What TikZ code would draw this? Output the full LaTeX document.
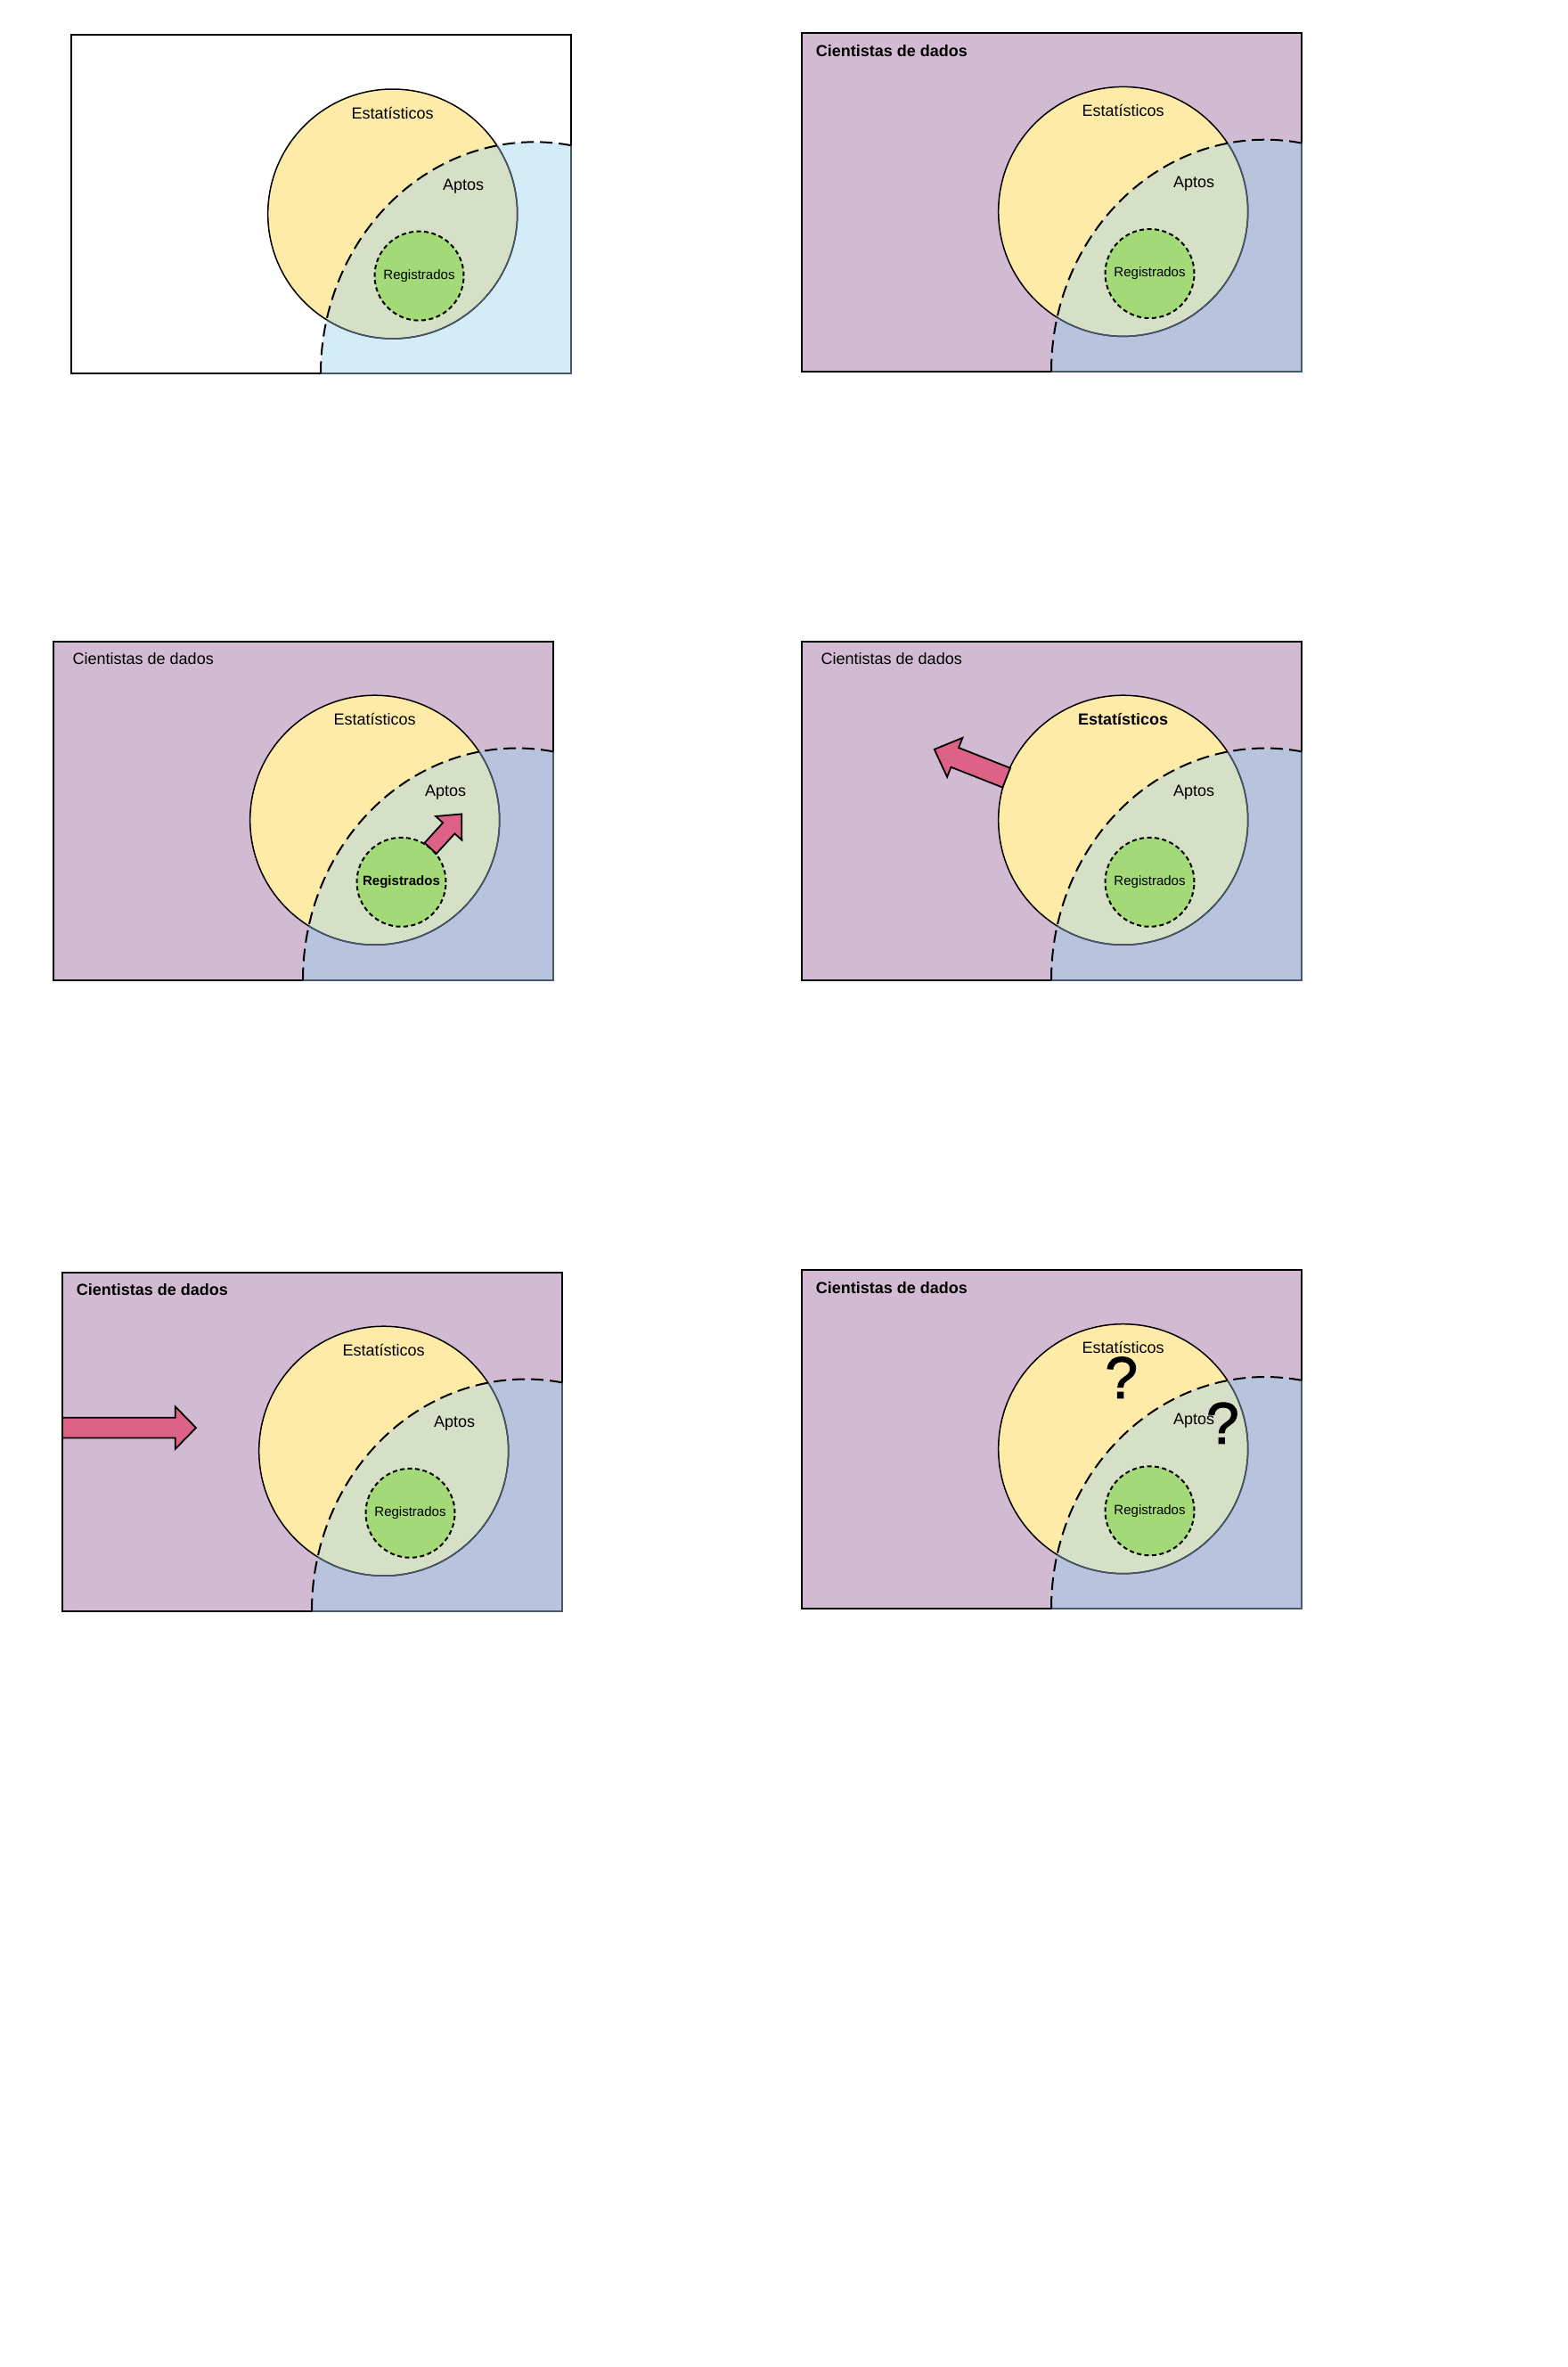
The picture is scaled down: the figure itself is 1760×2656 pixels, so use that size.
\documentclass[tikz,border=0pt]{standalone}
\usepackage{fontspec}
\setmainfont{Liberation Sans}
\newfontfamily\qmfont[FakeBold=1.6]{Liberation Sans}
\definecolor{bgp}{HTML}{D2BBD2}
\definecolor{yel}{HTML}{FFEBA8}
\definecolor{blu}{HTML}{B8C3DE}
\definecolor{lblu}{HTML}{D4EBF8}
\definecolor{ovl}{HTML}{D5E0C6}
\definecolor{grn}{HTML}{A3D977}
\definecolor{slate}{HTML}{46586A}
\definecolor{pinkarrow}{HTML}{DE6187}
\tikzset{
  rim/.style={draw=black, line width=2pt},
  ring/.style={draw=black, line width=1.5pt},
  bigdash/.style={draw=black, line width=2pt, dash pattern=on 14pt off 7pt},
  regc/.style={circle, minimum size=100pt, inner sep=0pt, fill=grn, draw=black,
    line width=2pt, dash pattern=on 5pt off 3.5pt},
  lbl/.style={anchor=base, inner sep=0pt},
  paneltitle/.style={anchor=base west, inner sep=0pt},
  qmark/.style={anchor=base, inner sep=0pt, font=\fontsize{66pt}{72pt}\qmfont},
  blockarrow/.style={fill=pinkarrow, draw=black, line width=1.8pt, line join=miter},
}
% #1 prefix, #2 background, #3 blue region, #4 font extra Estatisticos, #5 font extra Registrados
\newcommand{\VennPanel}[5]{%
  \fill[#2] (0,0) rectangle (561,380);
  \fill[yel] (360.7,200.7) circle[radius=140pt];
  \begin{scope}
    \clip (0,0) rectangle (561,380);
    \fill[#3] (520,380) ellipse[x radius=240pt, y radius=260pt];
    \clip (520,380) ellipse[x radius=240pt, y radius=260pt];
    \fill[ovl] (360.7,200.7) circle[radius=140pt];
  \end{scope}
  \draw[rim] (0,0) rectangle (561,380);
  \draw[ring] (360.7,200.7) circle[radius=140pt];
  \begin{scope}
    \clip (520,380) ellipse[x radius=240pt, y radius=260pt];
    \draw[ring, draw=slate] (360.7,200.7) circle[radius=140pt];
    \draw[rim, draw=slate] (0,0) rectangle (561,380);
  \end{scope}
  \draw[bigdash] (280,380) arc[start angle=180, end angle=80.2, x radius=240pt, y radius=260pt];
  \node[regc, font=\fontsize{15pt}{18pt}\selectfont#5] (#1-reg) at (390.5,270.3) {Registrados};
  \node[lbl, font=\fontsize{18pt}{21pt}\selectfont#4] (#1-est) at (360.6,93.8) {Estatísticos};
  \node[lbl, font=\fontsize{18pt}{21pt}\selectfont] (#1-apt) at (440.2,173.8) {Aptos};
}
\newcommand{\BlockArrow}[4]{%
  \path[blockarrow] (0,-#2/2) -- (#1-#4,-#2/2) -- (#1-#4,-#3/2) -- (#1,0)
    -- (#1-#4,#3/2) -- (#1-#4,#2/2) -- (0,#2/2) -- cycle;
}
\begin{document}
\begin{tikzpicture}[x=1pt,y=-1pt]
\useasboundingbox (0,0) rectangle (1760,2656);
\fill[white] (0,0) rectangle (1760,2656);

% Panel 1
\begin{scope}[shift={(80,39.3)}]
  \VennPanel{a}{white}{lblu}{}{}
\end{scope}

% Panel 2
\begin{scope}[shift={(900,36.7)}]
  \VennPanel{b}{bgp}{blu}{}{}
  \node[paneltitle, font=\fontsize{18pt}{21pt}\selectfont\bfseries] (b-title) at (15.6,26.3) {Cientistas de dados};
\end{scope}

% Panel 3
\begin{scope}[shift={(60,719.5)}]
  \VennPanel{c}{bgp}{blu}{}{\bfseries}
  \node[paneltitle, font=\fontsize{18pt}{21pt}\selectfont] (c-title) at (21.5,26.3) {Cientistas de dados};
  \begin{scope}[shift={(423.2,232.3)}, rotate=47.6]
    \BlockArrow{52}{18}{39.5}{21.5}
  \end{scope}
\end{scope}

% Panel 4
\begin{scope}[shift={(900,719.5)}]
  \VennPanel{d}{bgp}{blu}{\bfseries}{}
  \node[paneltitle, font=\fontsize{18pt}{21pt}\selectfont] (d-title) at (21.5,26.3) {Cientistas de dados};
  \begin{scope}[shift={(229.7,153.2)}, rotate=158.5]
    \BlockArrow{87}{23.4}{47.2}{24.7}
  \end{scope}
\end{scope}

% Panel 5
\begin{scope}[shift={(70,1427.5)}]
  \VennPanel{e}{bgp}{blu}{}{}
  \node[paneltitle, font=\fontsize{18pt}{21pt}\selectfont\bfseries] (e-title) at (15.6,26.3) {Cientistas de dados};
  \begin{scope}[shift={(0,174.6)}]
    \BlockArrow{150}{22.7}{47.7}{23.3}
  \end{scope}
\end{scope}

% Panel 6
\begin{scope}[shift={(900,1425)}]
  \VennPanel{f}{bgp}{blu}{}{}
  \node[paneltitle, font=\fontsize{18pt}{21pt}\selectfont\bfseries] (f-title) at (15.6,26.3) {Cientistas de dados};
  \node[qmark] (f-q1) at (358.7,143.7) {?};
  \node[qmark] (f-q2) at (472.4,194.9) {?};
\end{scope}
\end{tikzpicture}
\end{document}
